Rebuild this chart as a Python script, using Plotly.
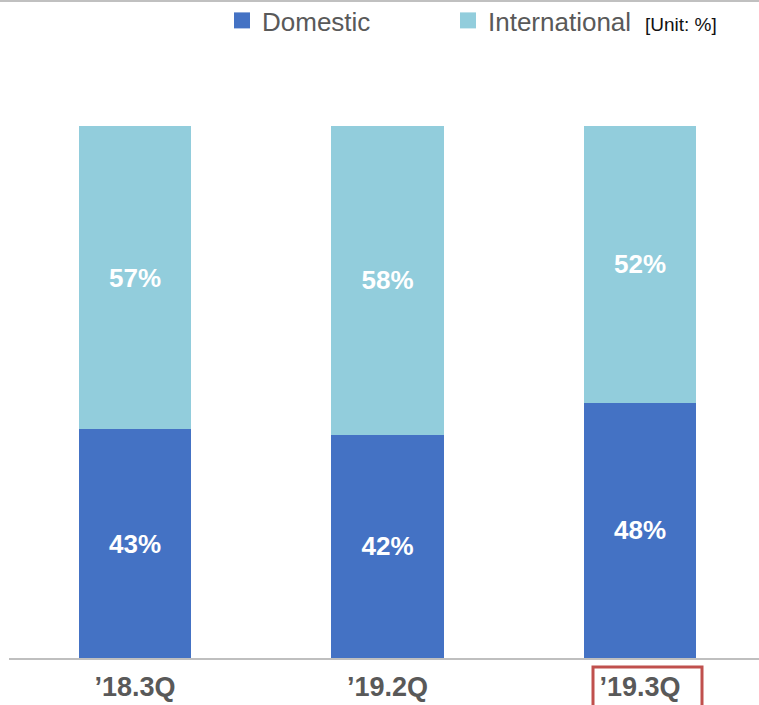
import plotly.graph_objects as go

categories = ["’18.3Q", "’19.2Q", "’19.3Q"]
domestic = [43, 42, 48]
international = [57, 58, 52]
series_names = ["Domestic", "International"]
colors = ["#4472c4", "#92cddc"]
unit_label = "[Unit: %]"

W, H = 759, 705
ml, mr, mt, mb = 9, 0, 60, 47
plot_h = H - mt - mb
plot_w = W - ml - mr

fig = go.Figure()
for name, vals, col in zip(series_names, [domestic, international], colors):
    fig.add_trace(go.Bar(
        x=categories, y=vals, name=name,
        marker=dict(color=col, line=dict(width=0)),
        text=[f"{v}%" for v in vals],
        textposition="inside", insidetextanchor="middle",
        textfont=dict(family="Liberation Sans, Arial", size=26, color="white", weight="bold"),
        showlegend=False,
    ))
    # legend entry with larger square symbol
    fig.add_trace(go.Scatter(
        x=[None], y=[None], mode="markers", name=name,
        marker=dict(symbol="square", size=16, color=col, line=dict(width=0)),
        showlegend=True,
    ))

fig.update_layout(
    width=W, height=H,
    margin=dict(l=ml, r=mr, t=mt, b=mb, pad=0, autoexpand=False),
    barmode="stack", bargap=0.556,
    plot_bgcolor="white", paper_bgcolor="white",
    font=dict(family="Liberation Sans, Arial", color="#595959"),
    legend=dict(
        orientation="h", traceorder="normal",
        x=(222 - ml) / plot_w, xanchor="left",
        y=(H - mb + 3) / plot_h, yanchor="top",
        font=dict(size=26, color="#595959"),
        entrywidth=181, entrywidthmode="pixels",
        itemsizing="trace", bgcolor="rgba(0,0,0,0)",
    ),
    xaxis=dict(
        range=[-0.499, 2.471], showgrid=False, zeroline=False,
        showline=True, linecolor="#bfbfbf", linewidth=2,
        ticks="", ticklabelstandoff=4,
        tickfont=dict(size=27, color="#595959", weight="bold"),
        fixedrange=True, automargin=False,
    ),
    yaxis=dict(
        range=[0, plot_h / 5.32], visible=False, fixedrange=True,
    ),
    annotations=[dict(
        text=unit_label, xref="paper", yref="paper",
        x=(643 - ml) / plot_w, y=(H - mb - 25) / plot_h,
        xanchor="left", yanchor="middle", showarrow=False,
        font=dict(size=19, color="#111111"),
    )],
    shapes=[
        dict(type="line", xref="paper", yref="paper",
             x0=-ml / plot_w, x1=1, y0=(H - mb - 1) / plot_h, y1=(H - mb - 1) / plot_h,
             line=dict(color="#c0c0c0", width=2)),
        dict(type="rect", xref="paper", yref="paper",
             x0=(593 - ml) / plot_w, x1=(702 - ml) / plot_w,
             y0=-(667 - (H - mb)) / plot_h, y1=-(712 - (H - mb)) / plot_h,
             line=dict(color="#c0504d", width=3)),
    ],
)

fig.write_html("out.html")
